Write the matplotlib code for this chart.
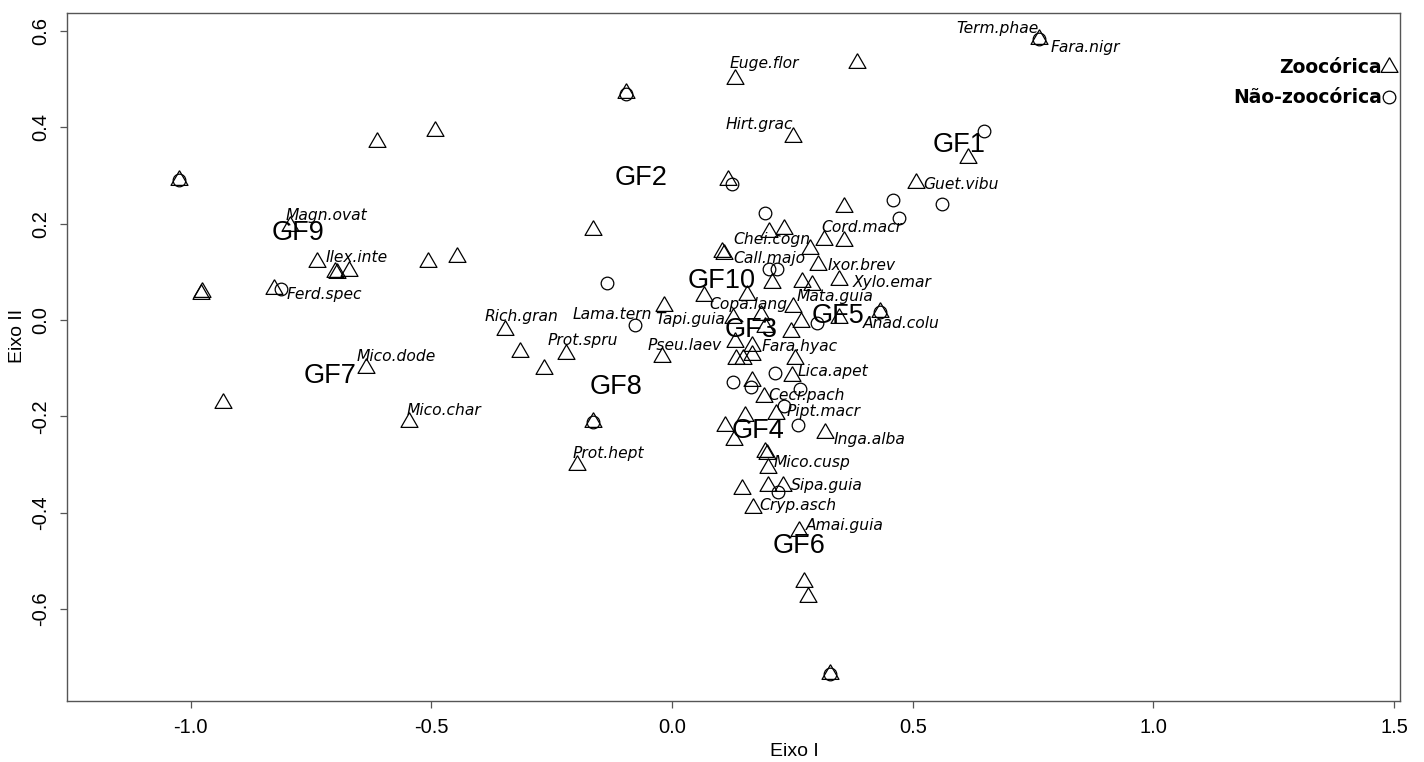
import matplotlib
matplotlib.use("Agg")
import matplotlib.pyplot as plt

# dispersal syndrome scores on the two ordination axes
zoo_x = [-1.024, -0.613, -0.492, -0.794, -0.737, -0.701, -0.697, -0.671, -0.507, -0.448,
         -0.978, -0.976, -0.827, -0.636, -0.934, -0.546, 0.130, -0.095, 0.251, 0.116,
         -0.164, 0.201, 0.233, 0.356, 0.315, 0.358, 0.108, 0.103, 0.286, 0.303,
         0.347, 0.208, 0.269, 0.290, 0.155, 0.066, -0.017, 0.251, 0.184, 0.127,
         0.193, 0.247, 0.268, 0.346, 0.432, -0.348, -0.316, -0.221, -0.267, -0.022,
         0.130, 0.165, 0.133, 0.148, 0.165, 0.256, 0.165, 0.249, 0.190, 0.215,
         0.151, 0.110, 0.128, 0.317, -0.164, -0.197, 0.193, 0.197, 0.200, 0.146,
         0.200, 0.230, 0.167, 0.263, 0.274, 0.283, 0.328, 0.384, 0.506, 0.614,
         0.762]
zoo_y = [0.291, 0.370, 0.393, 0.195, 0.121, 0.100, 0.098, 0.102, 0.120, 0.131,
         0.055, 0.059, 0.064, -0.099, -0.172, -0.212, 0.500, 0.472, 0.381, 0.291,
         0.187, 0.183, 0.190, 0.234, 0.166, 0.164, 0.137, 0.141, 0.147, 0.114,
         0.083, 0.076, 0.079, 0.073, 0.053, 0.049, 0.029, 0.028, 0.010, 0.004,
         -0.015, -0.025, -0.004, 0.004, 0.017, -0.021, -0.067, -0.071, -0.102, -0.077,
         -0.046, -0.054, -0.081, -0.080, -0.073, -0.081, -0.127, -0.116, -0.159, -0.195,
         -0.200, -0.220, -0.249, -0.235, -0.211, -0.301, -0.273, -0.279, -0.308, -0.351,
         -0.344, -0.344, -0.391, -0.438, -0.543, -0.575, -0.736, 0.534, 0.284, 0.336,
         0.583]

nonzoo_x = [-1.024, -0.812, -0.095, 0.125, 0.193, 0.201, 0.217, -0.135, -0.078, 0.300,
            0.127, 0.164, 0.213, 0.265, 0.232, 0.261, -0.164, 0.220, 0.328, 0.459,
            0.561, 0.471, 0.648, 0.762, 0.432]
nonzoo_y = [0.291, 0.064, 0.470, 0.282, 0.223, 0.105, 0.105, 0.077, -0.010, -0.007,
            -0.128, -0.139, -0.109, -0.144, -0.178, -0.219, -0.211, -0.357, -0.736, 0.249,
            0.241, 0.211, 0.393, 0.583, 0.017]

species = ["Term.phae", "Fara.nigr", "Euge.flor", "Hirt.grac", "Guet.vibu", "Magn.ovat",
           "Ilex.inte", "Ferd.spec", "Cord.macr", "Chei.cogn", "Call.majo", "Ixor.brev",
           "Xylo.emar", "Mata.guia", "Copa.lang", "Anad.colu", "Rich.gran", "Lama.tern",
           "Tapi.guia", "Prot.spru", "Pseu.laev", "Fara.hyac", "Mico.dode", "Lica.apet",
           "Mico.char", "Cecr.pach", "Pipt.macr", "Inga.alba", "Prot.hept", "Mico.cusp",
           "Sipa.guia", "Cryp.asch", "Amai.guia"]
species_x = [0.675, 0.858, 0.192, 0.182, 0.600, -0.718, -0.656, -0.722, 0.394, 0.207,
             0.203, 0.394, 0.456, 0.338, 0.158, 0.477, -0.313, -0.125, 0.038, -0.185,
             0.026, 0.265, -0.573, 0.335, -0.474, 0.279, 0.315, 0.411, -0.133, 0.290,
             0.321, 0.262, 0.359]
species_y = [0.606, 0.565, 0.533, 0.407, 0.282, 0.218, 0.130, 0.054, 0.193, 0.167,
             0.128, 0.114, 0.077, 0.048, 0.033, -0.008, 0.007, 0.012, 0.001, -0.043,
             -0.052, -0.055, -0.075, -0.107, -0.187, -0.157, -0.190, -0.249, -0.277, -0.296,
             -0.344, -0.386, -0.426]

groups = ["GF1", "GF2", "GF3", "GF4", "GF5", "GF6", "GF7", "GF8", "GF9", "GF10"]
groups_x = [0.597, -0.064, 0.165, 0.179, 0.345, 0.263, -0.711, -0.116, -0.777, 0.103]
groups_y = [0.363, 0.294, -0.021, -0.230, 0.008, -0.469, -0.116, -0.139, 0.180, 0.081]

legend_labels = ["Zoocórica", "Não-zoocórica"]
legend_x = [1.489, 1.489]
legend_y = [0.525, 0.463]

tri = [(0, 1), (0.866, -0.5), (-0.866, -0.5), (0, 1)]
sans = ["Liberation Sans", "DejaVu Sans"]

fig = plt.figure(figsize=(14.24, 7.62), dpi=100)
ax = fig.add_axes([0.0468, 0.0801, 0.9363, 0.9025])

ax.plot(zoo_x, zoo_y, linestyle="none", marker=tri, markersize=14.1,
        markerfacecolor="none", markeredgecolor="black", markeredgewidth=0.9)
ax.plot(nonzoo_x, nonzoo_y, linestyle="none", marker="o", markersize=9.1,
        markerfacecolor="none", markeredgecolor="black", markeredgewidth=0.9)

for name, x, y in zip(species, species_x, species_y):
    ax.text(x, y, name, ha="center", va="center", fontsize=11.2,
            fontstyle="oblique", family="DejaVu Sans", color="black")

for name, x, y in zip(groups, groups_x, groups_y):
    ax.text(x, y, name, ha="center", va="center", fontsize=19.5, family=sans)

# legend drawn as points with text on the left
ax.plot(legend_x[0], legend_y[0], linestyle="none", marker=tri, markersize=14.1,
        markerfacecolor="none", markeredgecolor="black", markeredgewidth=0.9)
ax.plot(legend_x[1], legend_y[1], linestyle="none", marker="o", markersize=9.1,
        markerfacecolor="none", markeredgecolor="black", markeredgewidth=0.9)
for name, x, y in zip(legend_labels, legend_x, legend_y):
    ax.annotate(name, (x, y), xytext=(-5, 0), textcoords="offset points",
                ha="right", va="center", fontsize=13.5, fontweight="bold",
                family="DejaVu Sans")

ax.set_xlim(-1.258, 1.512)
ax.set_ylim(-0.791, 0.637)
ax.set_xticks([-1.0, -0.5, 0.0, 0.5, 1.0, 1.5])
ax.set_xticklabels(["-1.0", "-0.5", "0.0", "0.5", "1.0", "1.5"])
ax.set_yticks([-0.6, -0.4, -0.2, 0.0, 0.2, 0.4, 0.6])
ax.set_yticklabels(["-0.6", "-0.4", "-0.2", "0.0", "0.2", "0.4", "0.6"],
                   rotation=90, va="center")
ax.tick_params(axis="both", direction="out", length=5, width=0.9, color="#555555",
               labelsize=14.5, pad=7)
for lab in ax.get_xticklabels() + ax.get_yticklabels():
    lab.set_family(sans)
for sp in ax.spines.values():
    sp.set_color("#555555")
    sp.set_linewidth(1.0)

fig.text(794 / 1424, 1 - 752 / 762, "Eixo I", ha="center", va="center",
         fontsize=14, family=sans)
fig.text(18 / 1424, 1 - 336 / 762, "Eixo II", ha="center", va="center",
         fontsize=14, family=sans, rotation=90)

fig.savefig("out.png", dpi=100)
